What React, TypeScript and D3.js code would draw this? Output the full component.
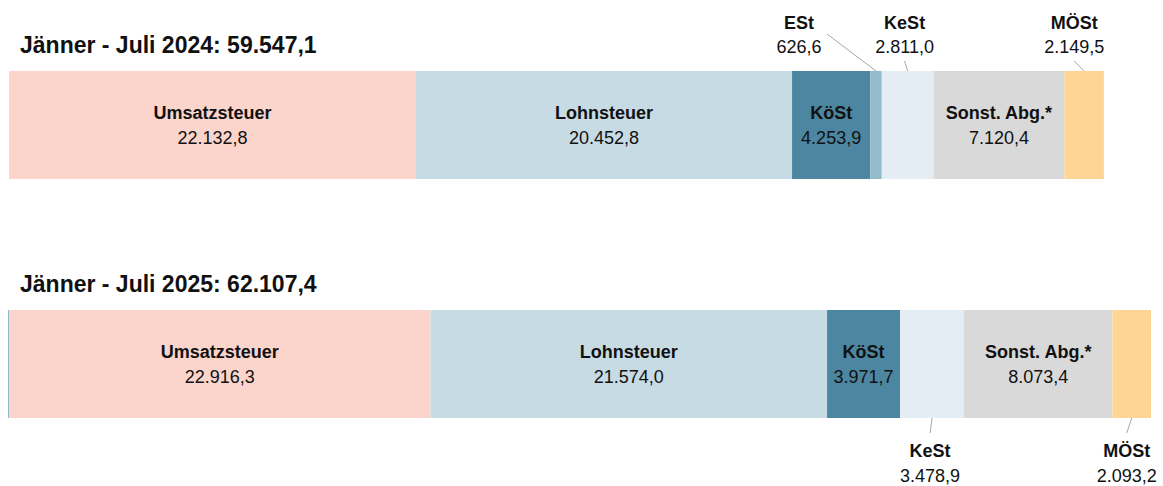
import React from "react";
import * as d3 from "d3";

const categories = ["Umsatzsteuer", "Lohnsteuer", "KöSt", "ESt", "KeSt", "Sonst. Abg.*", "MÖSt"];
const years = ["2024", "2025"];
const values2024 = [22132.8, 20452.8, 4253.9, 626.6, 2811.0, 7120.4, 2149.5];
const values2025 = [22916.3, 21574.0, 3971.7, -0.1, 3478.9, 8073.4, 2093.2];
const totals = [59547.1, 62107.4];
const periodLabel = "Jänner - Juli";

const colors = ["#FBD4CC", "#C7DBE4", "#4C86A1", "#94BACE", "#E3EDF3", "#D9D9D9", "#FED594"];

// label placement per bar: "in" inside, "up" above with leader, "down" below with leader, null none
const placement2024 = ["in", "in", "in", "up", "up", "in", "up"];
const placement2025 = ["in", "in", "in", null, "down", "in", "down"];
// horizontal offsets of external labels relative to segment centre
const extOffset2024 = [0, 0, 0, -77, -3, 0, -10];
const extOffset2025 = [0, 0, 0, 0, -2, 0, -5];

const locale = d3.formatLocale({ decimal: ",", thousands: ".", grouping: [3], currency: ["", "€"] });
const fmt = locale.format(",.1f");

const W = 1163;
const H = 486;
const FONT = "'Liberation Sans', Arial, sans-serif";

export default function App() {
  const x = d3.scaleLinear().domain([0, totals[1]]).range([9, 1151]);
  const y = d3.scaleBand().domain(years).range([71, 418]).paddingInner(0.548).paddingOuter(0);
  const bw = y.bandwidth();

  const rows = [
    { year: years[0], vals: values2024, place: placement2024, off: extOffset2024, total: totals[0] },
    { year: years[1], vals: values2025, place: placement2025, off: extOffset2025, total: totals[1] },
  ];

  return (
    <svg width={W} height={H} style={{ position: "absolute", left: 0, top: 0, background: "#fff" }} fontFamily={FONT}>
      {rows.map((r) => {
        const top = y(r.year)!;
        const bottom = top + bw;
        const mid = top + bw / 2;
        let pos = 0;
        const segs = r.vals.map((v, i) => {
          let x0: number, x1: number;
          if (v >= 0) {
            x0 = x(pos);
            pos += v;
            x1 = x(pos);
          } else {
            x1 = x(0);
            x0 = Math.min(x(v), x1 - 1);
          }
          return { v, i, x0, x1 };
        });
        return (
          <g key={r.year}>
            <text x={20} y={top - 18} fontSize={23} fontWeight="bold" fill="#111">
              {`${periodLabel} ${r.year}: ${fmt(r.total)}`}
            </text>
            {segs.map((s) => (
              <rect key={s.i} x={s.x0} y={top} width={s.x1 - s.x0} height={bw} fill={colors[s.i]} />
            ))}
            {segs.map((s) => {
              const p = r.place[s.i];
              const cx = (s.x0 + s.x1) / 2;
              if (p === "in") {
                return (
                  <g key={"l" + s.i} textAnchor="middle" fill="#111" fontSize={18}>
                    <text x={cx} y={mid - 6} fontWeight="bold">{categories[s.i]}</text>
                    <text x={cx} y={mid + 19}>{fmt(s.v)}</text>
                  </g>
                );
              }
              if (p === "up") {
                const lx = cx + r.off[s.i];
                const bigOff = Math.abs(r.off[s.i]) > 20;
                return (
                  <g key={"l" + s.i}>
                    <line x1={cx} y1={top} x2={bigOff ? lx + 28 : lx} y2={bigOff ? top - 37 : top - 10} stroke="#A6A6A6" strokeWidth={1} />
                    <g textAnchor="middle" fill="#111" fontSize={18}>
                      <text x={lx} y={top - 42} fontWeight="bold">{categories[s.i]}</text>
                      <text x={lx} y={top - 18}>{fmt(s.v)}</text>
                    </g>
                  </g>
                );
              }
              if (p === "down") {
                const lx = cx + r.off[s.i];
                return (
                  <g key={"l" + s.i}>
                    <line x1={cx} y1={bottom} x2={lx} y2={bottom + 15} stroke="#A6A6A6" strokeWidth={1} />
                    <g textAnchor="middle" fill="#111" fontSize={18}>
                      <text x={lx} y={bottom + 39} fontWeight="bold">{categories[s.i]}</text>
                      <text x={lx} y={bottom + 64}>{fmt(s.v)}</text>
                    </g>
                  </g>
                );
              }
              return null;
            })}
          </g>
        );
      })}
    </svg>
  );
}
